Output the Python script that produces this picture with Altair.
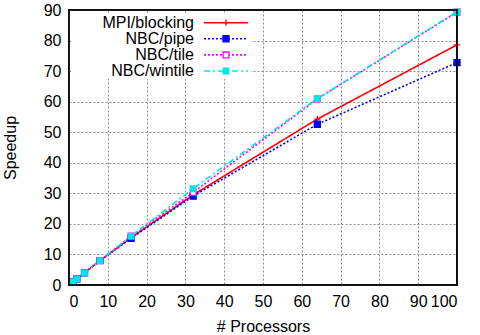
import altair as alt
import pandas as pd

procs = [1, 2, 4, 8, 16, 32, 64, 100]
series_names = ["MPI/blocking", "NBC/pipe", "NBC/tile", "NBC/wintile"]
mpi_blocking = [1, 2, 4, 8, 15.5, 29.5, 54.3, 78.6]
nbc_pipe = [1, 2, 4, 8, 15.3, 29.1, 52.6, 72.8]
nbc_tile = [1, 2, 4, 8, 16, 30.3, 60.9, 89.3]
nbc_wintile = [1, 2, 4, 8, 16, 31.5, 61.0, 89.4]

colors = ["#ff0000", "#0000ff", "#ff00ff", "#00e5e5"]
fills = ["#ff0000", "#0000ff", "#ffffff", "#00e5e5"]
dashes = [[1, 0], [2, 2], [2, 2], [6, 3, 2, 3]]
shapes = ["M-1,0H1M0,-1V1", "square", "square", "square"]
sizes = [40, 30, 45, 50]

rows = []
for name, vals in zip(series_names, [mpi_blocking, nbc_pipe, nbc_tile, nbc_wintile]):
    for p, v in zip(procs, vals):
        rows.append({"procs": p, "speedup": v, "series": name})
df = pd.DataFrame(rows)
leg_df = pd.DataFrame({"series": series_names, "row": list(range(len(series_names)))})
# plot frame edges (axis extent)
frame_df = pd.DataFrame({"x0": [0, 100, 0, 0], "x1": [100, 100, 0, 100],
                         "y0": [90, 0, 0, 0], "y1": [90, 90, 90, 0]})

FONT = "Liberation Sans"

x_scale = alt.Scale(domain=[0, 100], nice=False)
y_scale = alt.Scale(domain=[0, 90], nice=False)

x_axis = alt.Axis(values=list(range(0, 101, 10)), labelFontSize=16,
                  titleFontSize=16, labelPadding=8, titlePadding=9,
                  ticks=False, domain=False, grid=True, zindex=0)
y_axis = alt.Axis(values=list(range(0, 91, 10)), labelFontSize=16,
                  titleFontSize=16, labelPadding=8, titlePadding=25,
                  ticks=False, domain=False, grid=True, zindex=0)
x_enc = alt.X("procs:Q", title="# Processors", scale=x_scale, axis=x_axis)
y_enc = alt.Y("speedup:Q", title="Speedup", scale=y_scale, axis=y_axis)

color_enc = alt.Color("series:N", scale=alt.Scale(domain=series_names, range=colors), legend=None)
stroke_enc = alt.Stroke("series:N", scale=alt.Scale(domain=series_names, range=colors), legend=None)
dash_enc = alt.StrokeDash("series:N", scale=alt.Scale(domain=series_names, range=dashes), legend=None)
fill_enc = alt.Fill("series:N", scale=alt.Scale(domain=series_names, range=fills), legend=None)
shape_enc = alt.Shape("series:N", scale=alt.Scale(domain=series_names, range=shapes), legend=None)
size_enc = alt.Size("series:N", scale=alt.Scale(domain=series_names, range=sizes), legend=None)

lines = alt.Chart(df).mark_line(strokeWidth=1.6).encode(
    x=x_enc, y=y_enc, color=color_enc, strokeDash=dash_enc,
)
points = alt.Chart(df).mark_point(strokeWidth=1.3, opacity=1).encode(
    x=x_enc, y=y_enc, stroke=stroke_enc, fill=fill_enc, shape=shape_enc, size=size_enc,
)
frame = alt.Chart(frame_df).mark_rule(color="black", strokeWidth=1.5, strokeCap="square").encode(
    x=alt.X("x0:Q", scale=x_scale, axis=x_axis, title="# Processors"),
    x2="x1:Q",
    y=alt.Y("y0:Q", scale=y_scale, axis=y_axis, title="Speedup"),
    y2="y1:Q",
)
data_layer = alt.layer(lines, points, frame)

# manual gnuplot-style key (labels right-aligned, sample to the right)
leg_y = alt.Y("row:Q", scale=alt.Scale(domain=[0, 3], range=[12.7, 61], nice=False, zero=False), axis=None)

leg_bg = alt.Chart(leg_df).mark_rule(color="white", strokeWidth=66, strokeCap="butt").encode(
    x=alt.value(2), x2=alt.value(182), y=alt.value(36),
)
leg_text = alt.Chart(leg_df).mark_text(align="right", baseline="middle", fontSize=16,
                                       font=FONT, color="black").encode(
    x=alt.value(125), y=leg_y, text="series:N",
)
leg_rule = alt.Chart(leg_df).mark_rule(strokeWidth=1.6).encode(
    x=alt.value(135), x2=alt.value(179), y=leg_y, color=color_enc, strokeDash=dash_enc,
)
leg_pt = alt.Chart(leg_df).mark_point(strokeWidth=1.3, opacity=1).encode(
    x=alt.value(157), y=leg_y, stroke=stroke_enc, fill=fill_enc, shape=shape_enc, size=size_enc,
)
key_layer = alt.layer(leg_bg, leg_text, leg_rule, leg_pt)

chart = alt.layer(data_layer, key_layer).resolve_scale(
    y="independent"
).properties(
    width=388, height=275,
    background="white",
    autosize=alt.AutoSizeParams(type="none"),
    padding={"left": 69, "top": 10, "right": 23, "bottom": 50},
).configure_view(stroke="black", strokeWidth=1.5).configure_axis(
    gridColor="#8a8a8a", gridDash=[2, 2], gridWidth=1, gridOpacity=1,
    labelFont=FONT, titleFont=FONT, labelColor="black", titleColor="black",
    titleFontWeight="normal",
)

chart.save("out.html", embed_options={"renderer": "svg", "actions": False})
